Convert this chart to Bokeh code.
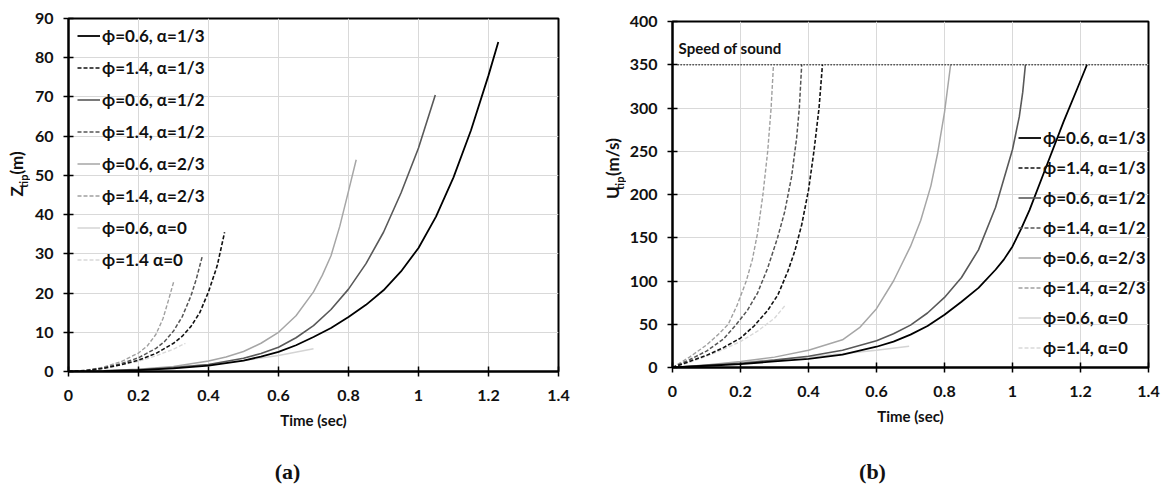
from bokeh.plotting import figure
from bokeh.models import Legend, LegendItem, Label, FixedTicker, NumeralTickFormatter, Range1d
from bokeh.layouts import row, column
from bokeh.embed import file_html
from bokeh.resources import INLINE

# ---------------- data: panel (a)  Z_tip (m) vs time (s) ----------------
a_t_06_13 = [0, 0.1, 0.2, 0.3, 0.4, 0.5, 0.55, 0.6, 0.65, 0.7, 0.75, 0.8, 0.85, 0.9, 0.95, 1.0, 1.05, 1.1, 1.15, 1.2, 1.228]
a_z_06_13 = [0, 0.1, 0.35, 0.8, 1.5, 2.8, 3.8, 5.0, 6.7, 8.8, 11.1, 13.9, 17.0, 20.7, 25.5, 31.5, 39.5, 49.5, 61.5, 75.5, 84]
a_t_14_13 = [0, 0.05, 0.1, 0.15, 0.2, 0.25, 0.3, 0.325, 0.35, 0.375, 0.4, 0.425, 0.446]
a_z_14_13 = [0, 0.2, 0.8, 1.7, 2.9, 4.6, 7.2, 9.0, 11.5, 15.0, 20.3, 27.0, 35.5]
a_t_06_12 = [0, 0.1, 0.2, 0.3, 0.4, 0.5, 0.55, 0.6, 0.65, 0.7, 0.75, 0.8, 0.85, 0.9, 0.95, 1.0, 1.048]
a_z_06_12 = [0, 0.15, 0.45, 1.0, 1.8, 3.4, 4.6, 6.2, 8.6, 11.7, 15.8, 21, 27.5, 35.5, 45.5, 57, 70.5]
a_t_14_12 = [0, 0.05, 0.1, 0.15, 0.2, 0.25, 0.275, 0.3, 0.325, 0.35, 0.365, 0.382]
a_z_14_12 = [0, 0.25, 0.9, 2.0, 3.5, 5.9, 7.7, 10.3, 14, 19.3, 23.5, 29.3]
a_t_06_23 = [0, 0.1, 0.2, 0.3, 0.4, 0.45, 0.5, 0.55, 0.6, 0.65, 0.7, 0.725, 0.75, 0.775, 0.8, 0.822]
a_z_06_23 = [0, 0.2, 0.6, 1.3, 2.7, 3.7, 5.1, 7.2, 10.0, 14.2, 20.3, 24.5, 29.5, 37, 46, 54]
a_t_14_23 = [0, 0.05, 0.1, 0.15, 0.2, 0.225, 0.25, 0.27, 0.285, 0.301]
a_z_14_23 = [0, 0.3, 1.1, 2.5, 4.7, 6.5, 9.5, 13.5, 18, 23]
a_t_06_0 = [0, 0.1, 0.2, 0.3, 0.4, 0.5, 0.6, 0.7]
a_z_06_0 = [0, 0.2, 0.6, 1.1, 1.8, 2.8, 4.1, 5.8]
a_t_14_0 = [0, 0.05, 0.1, 0.15, 0.2, 0.25, 0.3, 0.334]
a_z_14_0 = [0, 0.3, 0.9, 1.7, 2.6, 4.0, 5.7, 7.2]

# ---------------- data: panel (b)  U_tip (m/s) vs time (s) ----------------
b_t_06_13 = [0, 0.1, 0.2, 0.3, 0.4, 0.5, 0.6, 0.65, 0.7, 0.75, 0.8, 0.85, 0.9, 0.95, 0.975, 1.0, 1.025, 1.05, 1.1, 1.15, 1.19, 1.219]
b_u_06_13 = [0, 2, 4, 7, 10, 15, 24, 30, 38, 48, 61, 76, 92, 113, 125, 140, 160, 182, 233, 284, 322, 350]
b_t_14_13 = [0, 0.05, 0.1, 0.15, 0.2, 0.24, 0.28, 0.31, 0.34, 0.36, 0.38, 0.4, 0.416, 0.431, 0.441]
b_u_14_13 = [0, 7, 14, 23, 34, 48, 66, 84, 112, 135, 165, 205, 250, 300, 350]
b_t_06_12 = [0, 0.1, 0.2, 0.3, 0.4, 0.5, 0.6, 0.65, 0.7, 0.75, 0.8, 0.85, 0.9, 0.95, 1.0, 1.02, 1.03, 1.038]
b_u_06_12 = [0, 2.5, 5, 8.5, 13, 20, 31, 39, 49, 63, 81, 104, 136, 185, 252, 290, 318, 350]
b_t_14_12 = [0, 0.05, 0.1, 0.15, 0.188, 0.22, 0.25, 0.28, 0.309, 0.33, 0.35, 0.365, 0.373, 0.38]
b_u_14_12 = [0, 9, 19, 33, 50, 66, 86, 115, 150, 180, 220, 265, 300, 350]
b_t_06_23 = [0, 0.1, 0.2, 0.3, 0.4, 0.5, 0.55, 0.6, 0.65, 0.7, 0.73, 0.76, 0.78, 0.8, 0.818]
b_u_06_23 = [0, 3, 7, 12, 20, 32, 46, 68, 100, 140, 170, 210, 248, 295, 350]
b_t_14_23 = [0, 0.05, 0.1, 0.134, 0.164, 0.19, 0.217, 0.235, 0.25, 0.266, 0.28, 0.29, 0.297]
b_u_14_23 = [0, 12, 26, 38, 50, 72, 100, 125, 155, 200, 250, 300, 350]
b_t_06_0 = [0, 0.1, 0.2, 0.3, 0.4, 0.5, 0.6, 0.696]
b_u_06_0 = [0, 3, 6, 9, 12, 16, 20, 24.7]
b_t_14_0 = [0, 0.05, 0.1, 0.15, 0.2, 0.25, 0.3, 0.332]
b_u_14_0 = [0, 6, 13, 21, 30, 42, 57, 72]

speed_of_sound_t = [0.015, 1.4]
speed_of_sound_u = [350, 350]

legend_a = ["ϕ=0.6, α=1/3", "ϕ=1.4, α=1/3", "ϕ=0.6, α=1/2", "ϕ=1.4, α=1/2",
            "ϕ=0.6, α=2/3", "ϕ=1.4, α=2/3", "ϕ=0.6, α=0", "ϕ=1.4 α=0"]
legend_b = ["ϕ=0.6, α=1/3", "ϕ=1.4, α=1/3", "ϕ=0.6, α=1/2", "ϕ=1.4, α=1/2",
            "ϕ=0.6, α=2/3", "ϕ=1.4, α=2/3", "ϕ=0.6, α=0", "ϕ=1.4, α=0"]
x_ticks = [0, 0.2, 0.4, 0.6, 0.8, 1.0, 1.2, 1.4]
a_y_ticks = [0, 10, 20, 30, 40, 50, 60, 70, 80, 90]
b_y_ticks = [0, 50, 100, 150, 200, 250, 300, 350, 400]

series_a = [(a_t_06_13, a_z_06_13), (a_t_14_13, a_z_14_13), (a_t_06_12, a_z_06_12), (a_t_14_12, a_z_14_12),
            (a_t_06_23, a_z_06_23), (a_t_14_23, a_z_14_23), (a_t_06_0, a_z_06_0), (a_t_14_0, a_z_14_0)]
series_b = [(b_t_06_13, b_u_06_13), (b_t_14_13, b_u_14_13), (b_t_06_12, b_u_06_12), (b_t_14_12, b_u_14_12),
            (b_t_06_23, b_u_06_23), (b_t_14_23, b_u_14_23), (b_t_06_0, b_u_06_0), (b_t_14_0, b_u_14_0)]

COLORS = ["#000000", "#111111", "#595959", "#555555", "#a6a6a6", "#a0a0a0", "#d4d4d4", "#d9d9d9"]
DASHES = ["solid", "4 2", "solid", "4 2", "solid", "4 2", "solid", "4 2"]
WIDTHS = [1.8, 1.6, 1.6, 1.5, 1.5, 1.4, 1.5, 1.4]

FONT = "Lato"
TXT = "#111111"
MAIN_H = 450
CAP_H = 36


def make_panel(width, bl, br, bt, bb, yend, yticks, series, labels, legend_loc, spacing, padding):
    p = figure(width=width, height=MAIN_H, output_backend="svg", toolbar_location=None,
               x_range=Range1d(0, 1.4), y_range=Range1d(0, yend),
               min_border_left=bl, min_border_right=br, min_border_top=bt, min_border_bottom=bb)
    p.outline_line_color = "black"
    p.outline_line_width = 2
    for g in (p.xgrid, p.ygrid):
        g.grid_line_color = "#d9d9d9"
        g.grid_line_width = 1
    p.xaxis.ticker = FixedTicker(ticks=x_ticks)
    p.yaxis.ticker = FixedTicker(ticks=yticks)
    p.xaxis.formatter = NumeralTickFormatter(format="0.[0]")
    for ax in (p.xaxis, p.yaxis):
        ax.axis_line_color = "black"
        ax.axis_line_width = 2
        ax.major_tick_line_color = "black"
        ax.major_tick_line_width = 1.5
        ax.major_tick_in = 5
        ax.major_tick_out = 5
        ax.minor_tick_line_color = None
        ax.major_label_text_font = FONT
        ax.major_label_text_font_style = "bold"
        ax.major_label_text_font_size = "16px"
        ax.major_label_text_color = TXT
    p.xaxis.major_label_standoff = 13
    p.yaxis.major_label_standoff = 10
    p.xaxis.axis_label = "Time (sec)"
    p.xaxis.axis_label_text_font = FONT
    p.xaxis.axis_label_text_font_style = "bold"
    p.xaxis.axis_label_text_font_size = "15px"
    p.xaxis.axis_label_text_color = TXT
    p.xaxis.axis_label_standoff = 7

    items = []
    for (t, v), lab, c, d, w in zip(series, labels, COLORS, DASHES, WIDTHS):
        r = p.line(t, v, line_color=c, line_dash=d, line_width=w)
        items.append(LegendItem(label=lab, renderers=[r]))
    p.renderers = list(reversed(p.renderers))
    leg = Legend(items=items, location=legend_loc)
    leg.background_fill_alpha = 0
    leg.border_line_alpha = 0
    leg.label_text_font = FONT
    leg.label_text_font_style = "bold"
    leg.label_text_font_size = "17px"
    leg.label_text_color = TXT
    leg.glyph_width = 23
    leg.glyph_height = 21
    leg.label_height = 21
    leg.label_standoff = 2
    leg.margin = 0
    leg.padding = padding
    leg.spacing = spacing
    p.add_layout(leg)
    return p


def text_strip(width, height):
    # a bare drawing area (pixel-like units, origin bottom-left) that only carries texts
    s = figure(width=width, height=height, output_backend="svg", toolbar_location=None,
               x_range=Range1d(0, width), y_range=Range1d(0, height),
               x_axis_location=None, y_axis_location=None, min_border=0)
    s.outline_line_color = None
    s.xgrid.visible = False
    s.ygrid.visible = False
    return s


def put(s, x, y_from_top, text, size, angle=0, align="left", font=FONT, style="bold"):
    s.add_layout(Label(x=x, y=s.height - y_from_top, text=text, angle=angle, angle_units="deg",
                       text_align=align, text_baseline="middle", text_font=font,
                       text_font_style=style, text_font_size=size, text_color=TXT))


# ---------------- panel (a) ----------------
p1 = make_panel(550, 38, 22, 18, MAIN_H - 371, 90, a_y_ticks, series_a, legend_a, (1, 93), 11, 8)
ylab_a = text_strip(30, MAIN_H)
put(ylab_a, 16, 227, "Z", "17px", angle=90)
put(ylab_a, 23, 216, "tip", "11px", angle=90)
put(ylab_a, 16, 199, "(m)", "17px", angle=90)
cap_a = text_strip(580, CAP_H)
put(cap_a, 287, 471 - MAIN_H, "(a)", "22px", align="center", font="Liberation Serif")

# ---------------- panel (b) ----------------
p2 = make_panel(537, 43, 15, 21, MAIN_H - 367, 400, b_y_ticks, series_b, legend_b, (341, 4), 9, 5)
p2.line(speed_of_sound_t, speed_of_sound_u, line_color="black", line_dash="1 2", line_width=1.3)
p2.add_layout(Label(x=0.018, y=369, text="Speed of sound", text_align="left", text_baseline="middle",
                    text_font=FONT, text_font_style="bold", text_font_size="15px", text_color=TXT))
ylab_b = text_strip(46, MAIN_H)
put(ylab_b, 32, 231, "U", "17px", angle=90)
put(ylab_b, 39, 219, "tip", "11px", angle=90)
put(ylab_b, 32, 201, "(m/s)", "17px", angle=90)
cap_b = text_strip(583, CAP_H)
put(cap_b, 292, 471 - MAIN_H, "(b)", "22px", align="center", font="Liberation Serif")

layout = row(column(row(ylab_a, p1), cap_a), column(row(ylab_b, p2), cap_b))
open("out.html", "w").write(file_html(layout, INLINE))
